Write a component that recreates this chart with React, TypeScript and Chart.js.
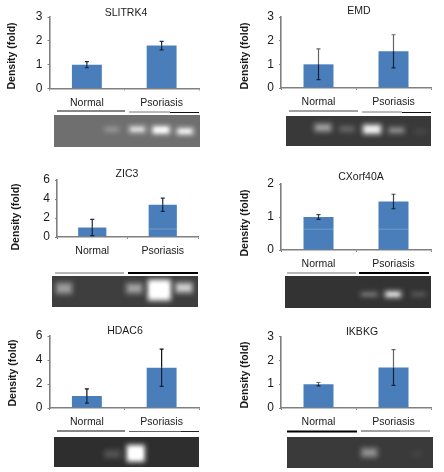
import { useEffect, useRef } from "react";
import { Chart, registerables } from "chart.js";

Chart.register(...registerables);

const categories = ["Normal", "Psoriasis"];
const yAxisLabel = "Density (fold)";
const genes = ["SLITRK4", "EMD", "ZIC3", "CXorf40A", "HDAC6", "IKBKG"];
const normalValues = [1, 1, 1, 1, 1, 1];
const psoriasisValues = [1.8, 1.55, 3.4, 1.47, 3.35, 1.7];
const normalErrors = [0.13, 0.65, 0.85, 0.07, 0.6, 0.07];
const psoriasisErrors = [0.18, 0.7, 0.7, 0.22, 1.55, 0.75];
const yMaxima = [3, 3, 6, 2, 6, 3];
const ySteps = [1, 1, 2, 1, 2, 1];
const barStreaks = [null, null, 0.84, 0.63, null, null];

const FONT = '"Liberation Sans", Arial, sans-serif';
const BAR = "#4a7ebb";
const AXIS = "#808080";

type Band = [number, number, number, number, number]; // cx, cy, w, h, intensity (page px)
type Rule = [number, number, number, string, number]; // x0, x1, y, colour, width
type Layout = {
  box: [number, number, number, number];
  area: [number, number, number, number];
  title: [number, number];
  ylabel: [number, number];
  gel: [number, number, number, number];
  gelBg: string;
  bands: Band[];
  rules: Rule[];
  upperErr: string;
};

const z = (v: number) => v / 3;
const layouts: Layout[] = [
  {
    box: [0, 0, 222, 160], area: [49.5, 17, 199, 88.5], title: [126, 13], ylabel: [12, 56],
    gel: [54, 115, 146, 32], gelBg: "#6f6f6f",
    bands: [
      [z(335), z(388), 15, 6, 0.25], [z(412), z(388), 17, 7, 0.65],
      [z(483), z(390), 18, 8, 0.9], [z(555), z(394), 17, 7, 0.8],
    ],
    rules: [[57, 125, 111, "#111", 1], [129, 170, 112, "#777", 1], [170, 199, 112.5, "#111", 1]],
    upperErr: "#1c2a3a",
  },
  {
    box: [222, 0, 222, 160], area: [281, 17, 431, 88], title: [359, 11], ylabel: [245, 56],
    gel: [286, 116, 145, 30], gelBg: "#393939",
    bands: [
      [222 + z(303), z(383), 18, 9, 0.42], [222 + z(375), z(387), 16, 7, 0.2],
      [222 + z(450), z(388), 19, 10, 0.8], [222 + z(523), z(391), 17, 7, 0.35],
      [222 + z(595), z(395), 13, 4, 0.1],
    ],
    rules: [[289, 358, 111, "#444", 1], [362, 402, 112, "#777", 1], [402, 431, 112.5, "#111", 1]],
    upperErr: "#666",
  },
  {
    box: [0, 160, 222, 160], area: [57, 180, 198, 237], title: [127, 174], ylabel: [16, 217],
    gel: [52, 276, 146, 31], gelBg: "#3e3e3e",
    bands: [
      [z(192), 160 + z(385), 17, 12, 0.4], [z(403), 160 + z(385), 17, 11, 0.42],
      [z(478), 160 + z(390), 23, 21, 1], [z(552), 160 + z(383), 18, 11, 0.6],
    ],
    rules: [[55, 124, 273, "#a0a0a0", 1.6], [128, 198, 273, "#000", 2]],
    upperErr: "#1c2a3a",
  },
  {
    box: [222, 160, 222, 160], area: [281, 184, 431, 250], title: [361, 177], ylabel: [245, 223],
    gel: [285, 276, 146, 32], gelBg: "#333333",
    bands: [
      [222 + z(442), 160 + z(403), 18, 5, 0.3], [222 + z(513), 160 + z(403), 17, 7, 0.7],
      [222 + z(590), 160 + z(403), 15, 5, 0.18],
    ],
    rules: [[287, 356, 273, "#a0a0a0", 1.6], [359, 429, 273, "#000", 2]],
    upperErr: "#444",
  },
  {
    box: [0, 320, 222, 152], area: [49.5, 336, 199, 408], title: [125, 331], ylabel: [13, 373],
    gel: [54, 437, 145, 30], gelBg: "#2e2e2e",
    bands: [
      [z(338), 320 + z(402), 17, 9, 0.16], [z(407), 320 + z(400), 18, 17, 1],
    ],
    rules: [[57, 125, 431, "#111", 1], [129, 181, 431.5, "#666", 1], [181, 199, 431.5, "#222", 1]],
    upperErr: "#111",
  },
  {
    box: [222, 320, 222, 152], area: [281, 336.5, 431, 408], title: [362, 332], ylabel: [245, 375],
    gel: [287, 437, 146, 31], gelBg: "#3a3a3a",
    bands: [
      [222 + z(442), 320 + z(398), 17, 10, 0.36], [222 + z(585), 320 + z(402), 10, 7, 0.05],
    ],
    rules: [[287, 357, 431.5, "#000", 2], [361, 400, 431, "#444", 1], [400, 430, 431, "#777", 1]],
    upperErr: "#666",
  },
];

function Panel({ index }: { index: number }) {
  const ref = useRef<HTMLCanvasElement>(null);
  useEffect(() => {
    const L = layouts[index];
    const [bx, by, bw, bh] = L.box;
    const [al, at, ar, ab] = L.area;
    const errors = [normalErrors[index], psoriasisErrors[index]];
    const values = [normalValues[index], psoriasisValues[index]];

    const decor = {
      id: "decor",
      afterDatasetsDraw(chart: any) {
        const { ctx, scales } = chart;
        const meta = chart.getDatasetMeta(0);
        ctx.save();
        // faint lighter streak across the bars
        const streak = barStreaks[index];
        if (streak !== null) {
          const y = scales.y.getPixelForValue(streak);
          values.forEach((v, i) => {
            if (v <= streak + 0.2) return;
            const el = meta.data[i];
            ctx.strokeStyle = "rgba(255,255,255,0.22)";
            ctx.lineWidth = 1;
            ctx.beginPath();
            ctx.moveTo(el.x - el.width / 2, y);
            ctx.lineTo(el.x + el.width / 2, y);
            ctx.stroke();
          });
        }
        // error bars
        values.forEach((v, i) => {
          const x = meta.data[i].x;
          const yTop = scales.y.getPixelForValue(v + errors[i]);
          const yBar = scales.y.getPixelForValue(v);
          const yLow = scales.y.getPixelForValue(v - errors[i]);
          ctx.lineWidth = 1.2;
          ctx.strokeStyle = L.upperErr;
          ctx.beginPath();
          ctx.moveTo(x, yTop);
          ctx.lineTo(x, yBar);
          ctx.moveTo(x - 2, yTop);
          ctx.lineTo(x + 2, yTop);
          ctx.stroke();
          ctx.strokeStyle = "#13243a";
          ctx.beginPath();
          ctx.moveTo(x, yBar);
          ctx.lineTo(x, yLow);
          ctx.moveTo(x - 2, yLow);
          ctx.lineTo(x + 2, yLow);
          ctx.stroke();
        });
        ctx.restore();
      },
      afterDraw(chart: any) {
        const { ctx } = chart;
        ctx.save();
        ctx.translate(-bx, -by);
        ctx.fillStyle = "#1a1a1a";
        ctx.textAlign = "center";
        ctx.textBaseline = "middle";
        ctx.font = `10.5px ${FONT}`;
        ctx.fillText(genes[index], L.title[0], L.title[1]);
        ctx.save();
        ctx.translate(L.ylabel[0], L.ylabel[1]);
        ctx.rotate(-Math.PI / 2);
        ctx.font = `bold 10.5px ${FONT}`;
        ctx.fillText(yAxisLabel, 0, 0);
        ctx.restore();
        L.rules.forEach(([x0, x1, y, c, w]) => {
          ctx.strokeStyle = c;
          ctx.lineWidth = w;
          ctx.beginPath();
          ctx.moveTo(x0, y);
          ctx.lineTo(x1, y);
          ctx.stroke();
        });
        const [gx, gy, gw, gh] = L.gel;
        ctx.save();
        ctx.beginPath();
        ctx.rect(gx, gy, gw, gh);
        ctx.clip();
        ctx.fillStyle = L.gelBg;
        ctx.fillRect(gx, gy, gw, gh);
        L.bands.forEach(([cx, cy, w, h, k]) => {
          ctx.filter = "blur(2.4px)";
          ctx.fillStyle = `rgba(255,255,255,${k})`;
          ctx.fillRect(cx - w / 2, cy - h / 2, w, h);
          ctx.filter = "blur(1.4px)";
          ctx.fillStyle = `rgba(255,255,255,${k * k * 0.9})`;
          ctx.fillRect(cx - w / 2 + 3, cy - h / 4, w - 6, h / 2);
          ctx.filter = "none";
        });
        ctx.restore();
        ctx.restore();
      },
    };

    const chart = new Chart(ref.current as HTMLCanvasElement, {
      type: "bar",
      data: {
        labels: categories,
        datasets: [{
          data: values,
          backgroundColor: BAR,
          barPercentage: 0.8,
          categoryPercentage: 0.5,
        }],
      },
      options: {
        animation: false,
        responsive: false,
        layout: { padding: { top: at - by, right: bx + bw - ar, left: 0, bottom: 0 } },
        plugins: { legend: { display: false }, tooltip: { enabled: false } },
        scales: {
          x: {
            grid: { drawOnChartArea: false, drawTicks: true, tickLength: 2, color: AXIS, lineWidth: 1 },
            border: { color: AXIS, width: 1.6 },
            ticks: { color: "#1a1a1a", font: { family: FONT, size: 10.5 }, padding: 6, maxRotation: 0 },
            afterFit: (s: any) => { s.height = by + bh - ab; },
          },
          y: {
            min: 0,
            max: yMaxima[index],
            grid: { drawOnChartArea: false, drawTicks: true, tickLength: 2, color: AXIS, lineWidth: 1 },
            border: { color: AXIS, width: 1.6 },
            ticks: { stepSize: ySteps[index], color: "#1a1a1a", font: { family: FONT, size: 12 }, padding: 5 },
            afterFit: (s: any) => { s.width = al - bx; },
          },
        },
      } as any,
      plugins: [decor],
    });
    return () => chart.destroy();
  }, [index]);

  const [x, y, w, h] = layouts[index].box;
  return (
    <canvas
      ref={ref}
      width={w}
      height={h}
      style={{ position: "absolute", left: x, top: y, width: w, height: h, display: "block" }}
    />
  );
}

export default function App() {
  return (
    <div style={{ position: "fixed", left: 0, top: 0, width: 444, height: 472, background: "#fff", overflow: "hidden" }}>
      {genes.map((_, i) => (
        <Panel key={i} index={i} />
      ))}
    </div>
  );
}
